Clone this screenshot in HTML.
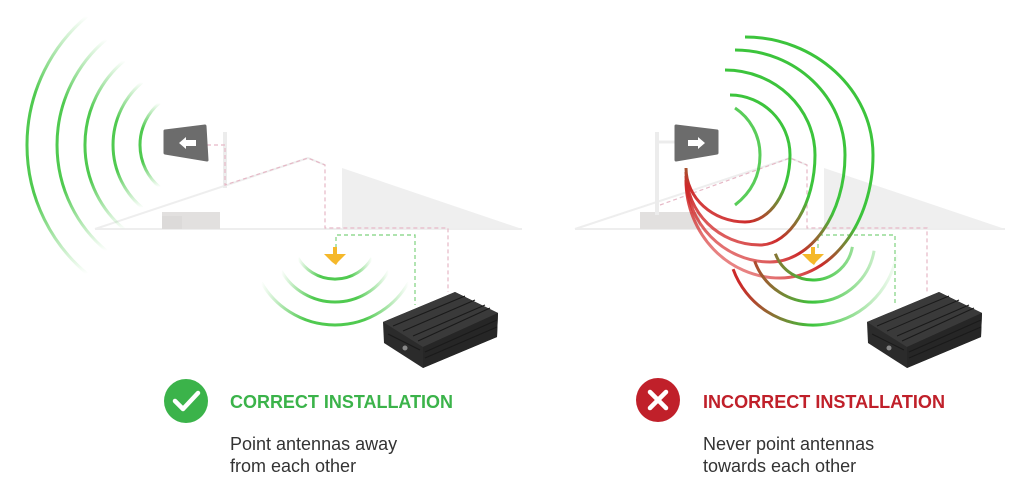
<!DOCTYPE html>
<html><head><meta charset="utf-8"><style>
html,body{margin:0;padding:0;background:#fff;}
svg{display:block;}
</style></head><body>
<svg width="1024" height="495" viewBox="0 0 1024 495" xmlns="http://www.w3.org/2000/svg">
<defs>
<linearGradient id="fv" x1="0" y1="0" x2="0" y2="1">
<stop offset="0" stop-color="#3cc43c" stop-opacity="0"/>
<stop offset="0.3" stop-color="#3cc43c" stop-opacity="0.9"/>
<stop offset="0.7" stop-color="#3cc43c" stop-opacity="0.9"/>
<stop offset="1" stop-color="#3cc43c" stop-opacity="0"/>
</linearGradient>
<linearGradient id="fh" x1="0" y1="0" x2="1" y2="0">
<stop offset="0" stop-color="#3cc43c" stop-opacity="0"/>
<stop offset="0.3" stop-color="#3cc43c" stop-opacity="0.9"/>
<stop offset="0.7" stop-color="#3cc43c" stop-opacity="0.9"/>
<stop offset="1" stop-color="#3cc43c" stop-opacity="0"/>
</linearGradient>
<linearGradient id="gr" gradientUnits="userSpaceOnUse" x1="800" y1="100" x2="710" y2="250">
<stop offset="0" stop-color="#3cc43c"/>
<stop offset="0.45" stop-color="#3cc43c"/>
<stop offset="0.75" stop-color="#cc2a2a"/>
<stop offset="1" stop-color="#d83030" stop-opacity="0.6"/>
</linearGradient>
<linearGradient id="gtop" gradientUnits="userSpaceOnUse" x1="0" y1="30" x2="0" y2="120">
<stop offset="0" stop-color="#3cc43c" stop-opacity="0.15"/>
<stop offset="1" stop-color="#3cc43c"/>
</linearGradient>
<linearGradient id="gi" gradientUnits="userSpaceOnUse" x1="740" y1="0" x2="900" y2="0">
<stop offset="0" stop-color="#cc2a2a"/>
<stop offset="0.45" stop-color="#3cc43c"/>
<stop offset="1" stop-color="#3cc43c" stop-opacity="0"/>
</linearGradient>
</defs>

<!-- LEFT HOUSE -->
<polygon points="342,168 342,229 522,229" fill="#efefef"/>
<polyline points="95,229 308,158 325,165" fill="none" stroke="#eeeeee" stroke-width="2"/>
<line x1="95" y1="229" x2="522" y2="229" stroke="#eeeeee" stroke-width="2"/>
<rect x="162" y="212" width="58" height="17" fill="#e2e0df"/>
<rect x="162" y="216" width="20" height="13" fill="#dcdad9"/>
<line x1="225" y1="132" x2="225" y2="188" stroke="#ececec" stroke-width="4"/>
<polyline points="207,145 225,145 225,185 308,158 325,165 325,228 448,228 448,292" fill="none" stroke="#e6b8c6" stroke-width="1.2" stroke-dasharray="4,3"/>
<polyline points="336,248 336,235 415,235 415,305" fill="none" stroke="#7ed27e" stroke-width="1.2" stroke-dasharray="4,3"/>

<g fill="none" stroke="url(#fv)" stroke-width="3">
<path d="M159.6,102.9 A55,55 0 0 0 159.6,187.1"/>
<path d="M142.3,82.2 A82,82 0 0 0 142.3,207.8"/>
<path d="M124.3,60.7 A110,110 0 0 0 124.3,229.3"/>
<path d="M106.3,39.3 A138,138 0 0 0 106.3,250.7"/>
<path d="M87,16.3 A168,168 0 0 0 87,273.7"/>
</g>
<polygon points="165,131 205,126 207,160 165,153" fill="#6c6c6c" stroke="#6c6c6c" stroke-width="3" stroke-linejoin="round"/>
<polygon points="179,143 186,137 186,140 196,140 196,146 186,146 186,149" fill="#fff"/>

<g fill="none" stroke="url(#fh)" stroke-width="3">
<path d="M372,258 A43,43 0 0 1 298,258"/>
<path d="M388.7,271 A62,62 0 0 1 281.3,271"/>
<path d="M408.6,282.5 A85,85 0 0 1 261.4,282.5"/>
</g>
<g fill="#f5b82a">
<polygon points="324,254 346,254 338,262 336,265 332,262"/>
<rect x="333" y="247" width="4" height="8"/>
</g>

<g>
<polygon points="383,322 455,292 498,313 497,337 423,368 384,343" fill="#2b2b2b"/>
<polygon points="383,322 455,292 498,313 423,347" fill="#3a3a3a"/>
<polygon points="423,347 498,313 497,337 423,368" fill="#262626"/>
<g stroke="#1a1a1a" stroke-width="1">
<line x1="393" y1="326" x2="465" y2="296"/><line x1="403" y1="331" x2="475" y2="300"/>
<line x1="413" y1="336" x2="485" y2="305"/><line x1="418" y1="341" x2="490" y2="308"/>
<line x1="425" y1="352" x2="497" y2="320"/><line x1="425" y1="358" x2="497" y2="327"/>
<line x1="388" y1="334" x2="420" y2="350"/>
</g>
<circle cx="405" cy="348" r="2.5" fill="#888"/>
</g>

<!-- RIGHT HOUSE -->
<polygon points="824,168 824,229 1005,229" fill="#efefef"/>
<polyline points="575,229 790,158 807,165" fill="none" stroke="#eeeeee" stroke-width="2"/>
<line x1="575" y1="229" x2="1005" y2="229" stroke="#eeeeee" stroke-width="2"/>
<rect x="640" y="212" width="60" height="17" fill="#e2e0df"/>
<line x1="657" y1="132" x2="657" y2="215" stroke="#ececec" stroke-width="4"/>
<line x1="657" y1="142" x2="675" y2="142" stroke="#ececec" stroke-width="3"/>
<polyline points="660,205 790,158 807,165 807,228 927,228 927,292" fill="none" stroke="#e6b8c6" stroke-width="1.2" stroke-dasharray="4,3"/>
<polyline points="818,248 818,235 895,235 895,305" fill="none" stroke="#7ed27e" stroke-width="1.2" stroke-dasharray="4,3"/>

<!-- right outdoor rings -->
<g fill="none" stroke="url(#gr)" stroke-width="3">
<path d="M735,108 C750,118 760,135 760,155 C760,180 748,195 735,205" stroke="#3cc43c" stroke-opacity="0.85"/>
<path d="M730,95 C763,95 790,122 790,155 C790,192 770,222 745,222 C713,222 686,198 686,168"/>
<path d="M725,70 C774.5,70 815,108 815,155 C815,203 790,245 760,245 C719,245 686,212 686,172"/>
<path d="M735,50 C795.5,50 845,97 845,155 C845,214 811,262 770,262 C724,262 686,223 686,176"/>
<path d="M745,37 C815,37 873,90 873,155 C873,223 831,278 780,278 C728,278 686,234 686,180"/>
</g>
<g fill="none" stroke="url(#gi)" stroke-width="3">
<path d="M775.4,253.7 A40,40 0 0 0 852.4,246.9"/>
<path d="M754.7,261.2 A62,62 0 0 0 874.1,250.8"/>
<path d="M733.1,269.1 A85,85 0 0 0 896.7,254.8"/>
</g>
<g fill="#f5b82a">
<polygon points="802,254 824,254 816,262 814,265 810,262"/>
<rect x="811" y="247" width="4" height="8"/>
</g>
<polygon points="676,126 717,131 717,153 676,160" fill="#6c6c6c" stroke="#6c6c6c" stroke-width="3" stroke-linejoin="round"/>
<polygon points="705,143 698,137 698,140 688,140 688,146 698,146 698,149" fill="#fff"/>

<g transform="translate(484,0)">
<polygon points="383,322 455,292 498,313 497,337 423,368 384,343" fill="#2b2b2b"/>
<polygon points="383,322 455,292 498,313 423,347" fill="#3a3a3a"/>
<polygon points="423,347 498,313 497,337 423,368" fill="#262626"/>
<g stroke="#1a1a1a" stroke-width="1">
<line x1="393" y1="326" x2="465" y2="296"/><line x1="403" y1="331" x2="475" y2="300"/>
<line x1="413" y1="336" x2="485" y2="305"/><line x1="418" y1="341" x2="490" y2="308"/>
<line x1="425" y1="352" x2="497" y2="320"/><line x1="425" y1="358" x2="497" y2="327"/>
<line x1="388" y1="334" x2="420" y2="350"/>
</g>
<circle cx="405" cy="348" r="2.5" fill="#888"/>
</g>

<circle cx="186" cy="401" r="22" fill="#3bb34a"/>
<polyline points="175,401 183,409 198,393" fill="none" stroke="#fff" stroke-width="4.5" stroke-linecap="round" stroke-linejoin="round"/>
<text x="230" y="408" font-family="Liberation Sans, sans-serif" font-weight="bold" font-size="18" fill="#3bb34a" textLength="223" lengthAdjust="spacingAndGlyphs">CORRECT INSTALLATION</text>
<text x="230" y="450" font-family="Liberation Sans, sans-serif" font-size="18" fill="#333">Point antennas away</text>
<text x="230" y="472" font-family="Liberation Sans, sans-serif" font-size="18" fill="#333">from each other</text>

<circle cx="658" cy="400" r="22" fill="#c0202a"/>
<g stroke="#fff" stroke-width="4.5" stroke-linecap="round">
<line x1="650" y1="392" x2="666" y2="408"/><line x1="666" y1="392" x2="650" y2="408"/>
</g>
<text x="703" y="408" font-family="Liberation Sans, sans-serif" font-weight="bold" font-size="18" fill="#c0202a" textLength="242" lengthAdjust="spacingAndGlyphs">INCORRECT INSTALLATION</text>
<text x="703" y="450" font-family="Liberation Sans, sans-serif" font-size="18" fill="#333">Never point antennas</text>
<text x="703" y="472" font-family="Liberation Sans, sans-serif" font-size="18" fill="#333">towards each other</text>
</svg>
</body></html>
